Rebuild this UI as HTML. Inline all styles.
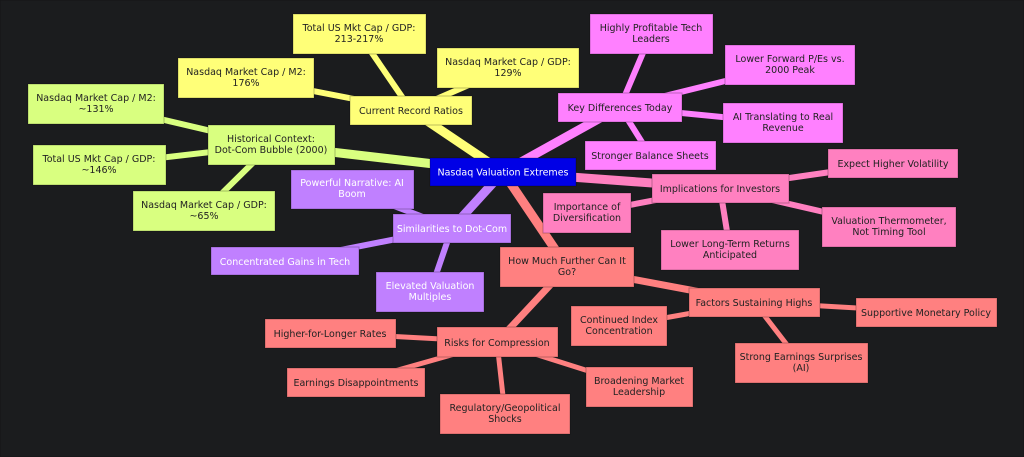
<!DOCTYPE html>
<html><head><meta charset="utf-8"><style>
html,body{margin:0;padding:0;background:#1b1c1e;}
svg{display:block}
text{font-family:"DejaVu Sans","Liberation Sans",sans-serif;font-size:9.5px;text-anchor:middle;fill:#222;}
rect{stroke:rgba(0,0,0,0.25);stroke-width:1}
</style></head><body>
<svg width="1024" height="457" viewBox="0 0 1024 457" xmlns="http://www.w3.org/2000/svg">
<rect x="0" y="0" width="1024" height="457" fill="#1b1c1e" stroke="none"/>
<g stroke-linecap="round">
<!-- root edges -->
<line x1="503" y1="172" x2="411" y2="110" stroke="#ffff78" stroke-width="9"/>
<line x1="503" y1="172" x2="271" y2="145" stroke="#d9ff80" stroke-width="9"/>
<line x1="503" y1="172" x2="452" y2="228" stroke="#c080ff" stroke-width="9"/>
<line x1="503" y1="172" x2="620" y2="107" stroke="#ff80ff" stroke-width="9"/>
<line x1="503" y1="172" x2="720" y2="188" stroke="#ff80c0" stroke-width="9"/>
<line x1="503" y1="172" x2="567" y2="267" stroke="#ff8080" stroke-width="9"/>
<!-- yellow -->
<g stroke="#ffff78" stroke-width="6">
<line x1="411" y1="110" x2="359" y2="34"/><line x1="411" y1="110" x2="246" y2="78"/><line x1="411" y1="110" x2="508" y2="68"/></g>
<g stroke="#d9ff80" stroke-width="6">
<line x1="271" y1="145" x2="96" y2="104"/><line x1="271" y1="145" x2="99" y2="165"/><line x1="271" y1="145" x2="204" y2="211"/></g>
<g stroke="#c080ff" stroke-width="6">
<line x1="452" y1="228" x2="352" y2="190"/><line x1="452" y1="228" x2="285" y2="261"/><line x1="452" y1="228" x2="430" y2="292"/></g>
<g stroke="#ff80ff" stroke-width="6">
<line x1="620" y1="107" x2="651" y2="34"/><line x1="620" y1="107" x2="790" y2="65"/><line x1="620" y1="107" x2="783" y2="123"/><line x1="620" y1="107" x2="650" y2="155"/></g>
<g stroke="#ff80c0" stroke-width="6">
<line x1="720" y1="188" x2="893" y2="163"/><line x1="720" y1="188" x2="587" y2="213"/><line x1="720" y1="188" x2="889" y2="227"/><line x1="720" y1="188" x2="730" y2="250"/></g>
<g stroke="#ff8080" stroke-width="7">
<line x1="567" y1="267" x2="754" y2="302"/><line x1="567" y1="267" x2="497" y2="342"/></g>
<g stroke="#ff8080" stroke-width="5">
<line x1="754" y1="302" x2="619" y2="326"/><line x1="754" y1="302" x2="926" y2="312"/><line x1="754" y1="302" x2="801" y2="363"/>
<line x1="497" y1="342" x2="330" y2="333"/><line x1="497" y1="342" x2="356" y2="382"/><line x1="497" y1="342" x2="505" y2="414"/><line x1="497" y1="342" x2="639" y2="387"/></g>
</g>
<!-- nodes -->
<rect x="430" y="158" width="146" height="28" fill="#0000e6"/>
<text x="503" y="175.5" style="fill:#fff">Nasdaq Valuation Extremes</text>

<g fill="#ffff78">
<rect x="350" y="96" width="122" height="29"/><rect x="293" y="14" width="133" height="40"/><rect x="178" y="58" width="136" height="40"/><rect x="437" y="48" width="142" height="40"/></g>
<text x="411" y="114">Current Record Ratios</text>
<text x="359" y="31">Total US Mkt Cap / GDP:</text><text x="359" y="42">213-217%</text>
<text x="246" y="75">Nasdaq Market Cap / M2:</text><text x="246" y="86">176%</text>
<text x="508" y="65">Nasdaq Market Cap / GDP:</text><text x="508" y="76">129%</text>

<g fill="#d9ff80">
<rect x="208" y="125" width="127" height="40"/><rect x="28" y="84" width="136" height="40"/><rect x="33" y="145" width="133" height="40"/><rect x="133" y="191" width="142" height="40"/></g>
<text x="271" y="142">Historical Context:</text><text x="271" y="153">Dot-Com Bubble (2000)</text>
<text x="96" y="101">Nasdaq Market Cap / M2:</text><text x="96" y="112">~131%</text>
<text x="99" y="162">Total US Mkt Cap / GDP:</text><text x="99" y="173">~146%</text>
<text x="204" y="208">Nasdaq Market Cap / GDP:</text><text x="204" y="219">~65%</text>

<g fill="#c080ff">
<rect x="393" y="214" width="118" height="29"/><rect x="291" y="170" width="123" height="39"/><rect x="211" y="247" width="148" height="28"/><rect x="376" y="272" width="108" height="40"/></g>
<g style="fill:#fff">
<text x="452" y="232" style="fill:#fff">Similarities to Dot-Com</text>
<text x="352" y="186" style="fill:#fff">Powerful Narrative: AI</text><text x="352" y="197" style="fill:#fff">Boom</text>
<text x="285" y="265" style="fill:#fff">Concentrated Gains in Tech</text>
<text x="430" y="289" style="fill:#fff">Elevated Valuation</text><text x="430" y="300" style="fill:#fff">Multiples</text></g>

<g fill="#ff80ff">
<rect x="558" y="93" width="124" height="29"/><rect x="590" y="14" width="123" height="40"/><rect x="725" y="45" width="130" height="40"/><rect x="723" y="103" width="120" height="40"/><rect x="585" y="141" width="131" height="29"/></g>
<text x="620" y="111">Key Differences Today</text>
<text x="651" y="31">Highly Profitable Tech</text><text x="651" y="42">Leaders</text>
<text x="790" y="62">Lower Forward P/Es vs.</text><text x="790" y="73">2000 Peak</text>
<text x="783" y="120">AI Translating to Real</text><text x="783" y="131">Revenue</text>
<text x="650" y="159">Stronger Balance Sheets</text>

<g fill="#ff80c0">
<rect x="652" y="174" width="137" height="29"/><rect x="828" y="149" width="130" height="29"/><rect x="543" y="193" width="88" height="40"/><rect x="822" y="207" width="134" height="40"/><rect x="661" y="230" width="138" height="40"/></g>
<text x="720" y="192">Implications for Investors</text>
<text x="893" y="167">Expect Higher Volatility</text>
<text x="587" y="210">Importance of</text><text x="587" y="221">Diversification</text>
<text x="889" y="224">Valuation Thermometer,</text><text x="889" y="235">Not Timing Tool</text>
<text x="730" y="247">Lower Long-Term Returns</text><text x="730" y="258">Anticipated</text>

<g fill="#ff8080">
<rect x="500" y="247" width="134" height="40"/><rect x="689" y="288" width="131" height="29"/><rect x="571" y="306" width="96" height="40"/><rect x="856" y="298" width="141" height="29"/><rect x="735" y="343" width="133" height="40"/>
<rect x="437" y="327" width="121" height="30"/><rect x="265" y="319" width="131" height="29"/><rect x="287" y="368" width="138" height="29"/><rect x="440" y="394" width="130" height="40"/><rect x="586" y="367" width="107" height="40"/></g>
<text x="567" y="264">How Much Further Can It</text><text x="567" y="275">Go?</text>
<text x="754" y="306">Factors Sustaining Highs</text>
<text x="619" y="323">Continued Index</text><text x="619" y="334">Concentration</text>
<text x="926" y="316">Supportive Monetary Policy</text>
<text x="801" y="360">Strong Earnings Surprises</text><text x="801" y="371">(AI)</text>
<text x="497" y="346">Risks for Compression</text>
<text x="330" y="337">Higher-for-Longer Rates</text>
<text x="356" y="386">Earnings Disappointments</text>
<text x="505" y="411">Regulatory/Geopolitical</text><text x="505" y="422">Shocks</text>
<text x="639" y="384">Broadening Market</text><text x="639" y="395">Leadership</text>
</svg>
</body></html>
